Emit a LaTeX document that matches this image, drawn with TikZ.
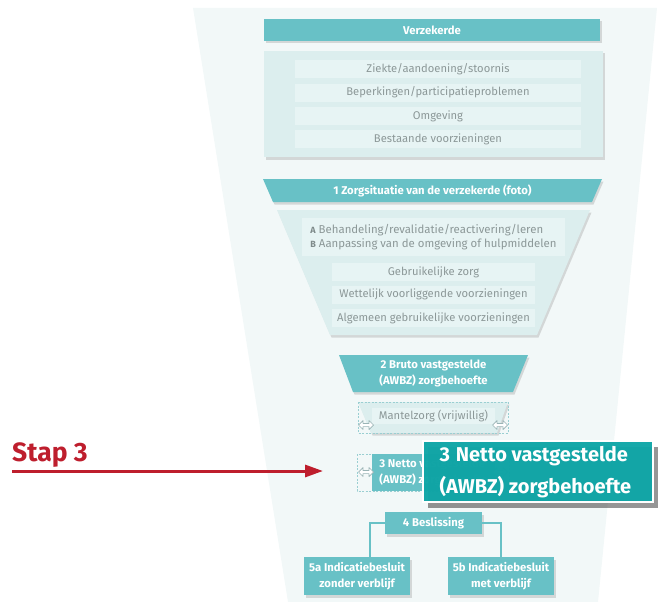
\documentclass[tikz,border=0pt]{standalone}
\usepackage{fontspec}
\setmainfont{Fira Sans}
\usetikzlibrary{arrows.meta,shadows,calc}
\definecolor{tealA}{HTML}{68C1C6}
\definecolor{tealB}{HTML}{0FA6A7}
\definecolor{paleBg}{HTML}{F2F8F8}
\definecolor{panelC}{HTML}{DCEEEE}
\definecolor{rowC}{HTML}{E7F4F4}
\definecolor{grayTxt}{HTML}{8C9898}
\definecolor{abTxt}{HTML}{7E8A8A}
\definecolor{redC}{HTML}{BE1E2D}
\definecolor{dashC}{HTML}{9ACFD2}
\definecolor{arrC}{HTML}{9AB4B6}
\tikzset{
  tealbox/.style={fill=tealA, text=white, inner sep=0pt, align=center,
    font=\bfseries\fontsize{11.3}{15.5}\selectfont},
  rowbox/.style={fill=rowC, text=grayTxt, inner sep=0pt,
    font=\fontsize{11.2}{13}\selectfont},
  pshadow/.style={drop shadow={shadow xshift=1.5pt, shadow yshift=-2.5pt, opacity=0.22, fill=black!60}},
  dashbox/.style={draw=dashC, dashed, line width=0.6pt, dash pattern=on 2pt off 1.5pt},
  dblarrow/.pic={\filldraw[fill=white, draw=arrC, line width=0.7pt, line join=round]
    (-7.5,0) -- (-3,-4.5) -- (-3,-1.6) -- (3,-1.6) -- (3,-4.5) -- (7.5,0) -- (3,4.5) -- (3,1.6) -- (-3,1.6) -- (-3,4.5) -- cycle;}
}
\begin{document}
\begin{tikzpicture}[x=1pt,y=-1pt]
\useasboundingbox (0,0) rectangle (661,602);
% background funnel
\fill[paleBg] (193,8) -- (657,8) -- (598,602) -- (288,602) -- cycle;

% Verzekerde
\node[tealbox, pshadow, minimum width=336pt, minimum height=22pt] (verz) at (432,30) {Verzekerde};
\fill[panelC, pshadow] (264,51) rectangle (603,157);
\node[rowbox, minimum width=286pt, minimum height=18pt] (r1) at (438,69) {Ziekte/aandoening/stoornis};
\node[rowbox, minimum width=286pt, minimum height=18pt] (r2) at (438,92.5) {Beperkingen/participatieproblemen};
\node[rowbox, minimum width=286pt, minimum height=18pt] (r3) at (438,116) {Omgeving};
\node[rowbox, minimum width=286pt, minimum height=18pt] (r4) at (438,139) {Bestaande voorzieningen};

% 1 Zorgsituatie
\fill[tealA, pshadow] (263,179) -- (602,179) -- (592,202) -- (273,202) -- cycle;
\node[text=white, font=\bfseries\fontsize{11.3}{13}\selectfont] (z1) at (432.5,190.5) {1 Zorgsituatie van de verzekerde (foto)};
\fill[panelC, pshadow] (277,210) -- (590,210) -- (537,335) -- (330,335) -- cycle;
\node[rowbox, minimum width=263pt, minimum height=38pt, align=left, font=\fontsize{11.4}{14.5}\selectfont] (ab) at (433.5,237)
  {{\color{abTxt}\bfseries\fontsize{9}{10}\selectfont A} Behandeling/revalidatie/reactivering/leren\\
   {\color{abTxt}\bfseries\fontsize{9}{10}\selectfont B} Aanpassing van de omgeving of hulpmiddelen};
\node[rowbox, minimum width=203pt, minimum height=18pt] (g1) at (433.5,272) {Gebruikelijke zorg};
\node[rowbox, minimum width=203pt, minimum height=18pt] (g2) at (433.5,294.5) {Wettelijk voorliggende voorzieningen};
\node[rowbox, minimum width=203pt, minimum height=18pt] (g3) at (433.5,318) {Algemeen gebruikelijke voorzieningen};

% 2 Bruto
\fill[tealA, pshadow] (339,355) -- (528,355) -- (513,392) -- (353,392) -- cycle;
\node[text=white, align=center, font=\bfseries\fontsize{11.3}{15.5}\selectfont] (b2) at (433.5,373.5) {2 Bruto vastgestelde\\(AWBZ) zorgbehoefte};

% Mantelzorg
\fill[panelC, pshadow] (358,402) -- (508,402) -- (497,433) -- (371,433) -- cycle;
\draw[dashbox] (358,402) rectangle (508,433);
\node[rowbox, minimum width=123pt, minimum height=16pt] (mz) at (433.5,415.5) {Mantelzorg (vrijwillig)};
\pic at (366,425) {dblarrow};
\pic at (500,425) {dblarrow};

% 3 Netto (small)
\draw[dashbox] (357,454) rectangle (509,491);
\node[tealbox, minimum width=123pt, minimum height=37pt, align=left] (b3) at (433.5,472.5) {3 Netto vastgestelde\\(AWBZ) zorgbehoefte};
\pic at (366,472) {dblarrow};
\pic at (500,472) {dblarrow};

% callout
\node[fill=tealB, draw=white, line width=2pt, fill opacity=0.97, text opacity=1, text=white,
  drop shadow={shadow xshift=5pt, shadow yshift=-6pt, opacity=0.55, fill=black!75},
  minimum width=230pt, minimum height=61pt, inner sep=0pt] (call) at (538,471.5) {};
\node[anchor=west, text=white, align=left, font=\bfseries\fontsize{20}{32}\selectfont] (calltxt) at (436,472)
  {3\hspace{0.3em}Netto vastgestelde\\(AWBZ) zorgbehoefte};

% 4 Beslissing and 5a/5b
\node[tealbox, pshadow, minimum width=97pt, minimum height=22pt] (b4) at (433.5,523) {4 Beslissing};
\node[tealbox, pshadow, minimum width=106pt, minimum height=38pt] (b5a) at (357,576) {5a Indicatiebesluit\\zonder verblijf};
\node[tealbox, pshadow, minimum width=106pt, minimum height=38pt] (b5b) at (501,576) {5b Indicatiebesluit\\met verblijf};
\draw[tealA, line width=1.3pt] (b4.west) -| ([xshift=13pt]b5a.north);
\draw[tealA, line width=1.3pt] (b4.east) -| (b5b.north);

% Stap 3
\node[anchor=base west, text=redC, inner sep=0pt, font=\bfseries\fontsize{26.5}{30}\selectfont] (stap) at (12,461) {Stap 3};
\coordinate (s0) at (12,471);
\coordinate (s1) at (323,471);
\draw[redC, line width=3pt, -{Triangle[length=18pt,width=12pt]}] (s0) -- (s1);
\end{tikzpicture}
\end{document}
